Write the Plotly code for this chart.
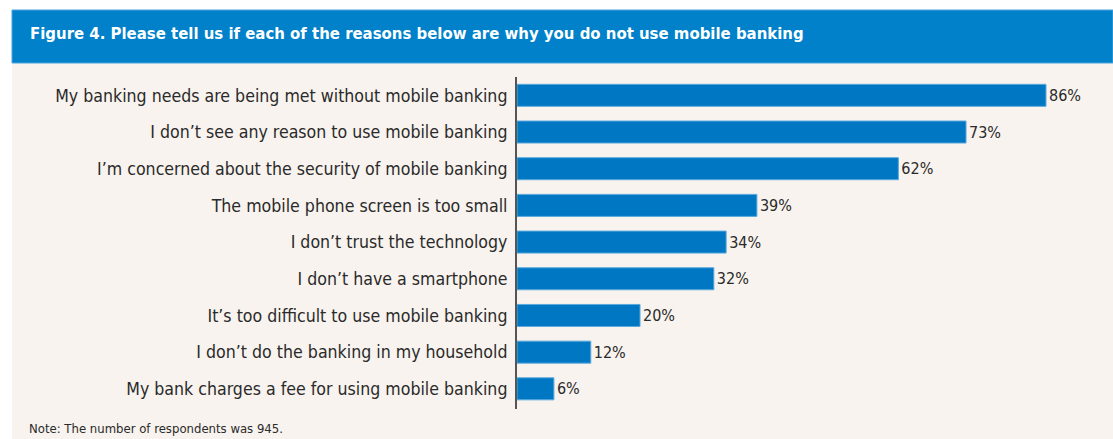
import plotly.graph_objects as go

# Survey responses, top to bottom
reasons = [
    "My banking needs are being met without mobile banking",
    "I don\u2019t see any reason to use mobile banking",
    "I\u2019m concerned about the security of mobile banking",
    "The mobile phone screen is too small",
    "I don\u2019t trust the technology",
    "I don\u2019t have a smartphone",
    "It\u2019s too difficult to use mobile banking",
    "I don\u2019t do the banking in my household",
    "My bank charges a fee for using mobile banking",
]
shares = [86, 73, 62, 39, 34, 32, 20, 12, 6]

title_text = "Figure 4. Please tell us if each of the reasons below are why you do not use mobile banking"
note_text = "Note: The number of respondents was 945."

W, H = 1113, 439
FONT = "Liberation Sans Narrow, Arial Narrow, DejaVu Sans Condensed, sans-serif"
TEXT = "#2a2a2a"
BAR = "#0077C2"
HEADER = "#0081CA"
BEIGE = "#F8F3EE"

def px_x(p):
    return p / W

def px_y(p):
    return 1 - p / H

axis_left = 517
px_per_pct = 529 / 86

fig = go.Figure(
    go.Bar(
        x=shares,
        y=reasons,
        orientation="h",
        marker=dict(color=BAR, line=dict(color="#5aa9dd", width=1)),
        text=[f"{v}%" for v in shares],
        textposition="outside",
        textfont=dict(family=FONT, size=16, color=TEXT),
        cliponaxis=False,
        hoverinfo="skip",
    )
)

fig.update_layout(
    width=W,
    height=H,
    margin=dict(l=0, r=0, t=0, b=0),
    paper_bgcolor="white",
    plot_bgcolor="rgba(0,0,0,0)",
    showlegend=False,
    bargap=0.40,
    xaxis=dict(
        domain=[px_x(axis_left), 1],
        range=[0, (W - axis_left) / px_per_pct],
        showgrid=False,
        zeroline=False,
        showticklabels=False,
        showline=False,
        fixedrange=True,
    ),
    yaxis=dict(
        domain=[px_y(409), px_y(77)],
        categoryorder="array",
        categoryarray=list(reversed(reasons)),
        autorange=False,
        range=[-0.55, len(reasons) - 0.5],
        showgrid=False,
        zeroline=False,
        showline=True,
        linecolor="#555555",
        linewidth=2,
        ticks="",
        ticklabelstandoff=4,
        tickfont=dict(family=FONT, size=17.6, color=TEXT),
        fixedrange=True,
    ),
    shapes=[
        # beige panel
        dict(type="rect", xref="paper", yref="paper", layer="below",
             x0=px_x(12), x1=1, y0=0, y1=px_y(63),
             fillcolor=BEIGE, line=dict(width=0)),
        # blue header band
        dict(type="rect", xref="paper", yref="paper", layer="below",
             x0=px_x(12), x1=1, y0=px_y(63), y1=px_y(10),
             fillcolor=HEADER, line=dict(color="#4aa3dd", width=1)),
    ],
    annotations=[
        dict(text=f"<b>{title_text}</b>", xref="paper", yref="paper",
             x=px_x(28), y=px_y(33), xanchor="left", yanchor="middle",
             showarrow=False,
             font=dict(family=FONT, size=16.6, color="white")),
        dict(text=note_text, xref="paper", yref="paper",
             x=px_x(27), y=px_y(428), xanchor="left", yanchor="middle",
             showarrow=False,
             font=dict(family=FONT, size=13, color=TEXT)),
    ],
)

fig.write_html("out.html")
